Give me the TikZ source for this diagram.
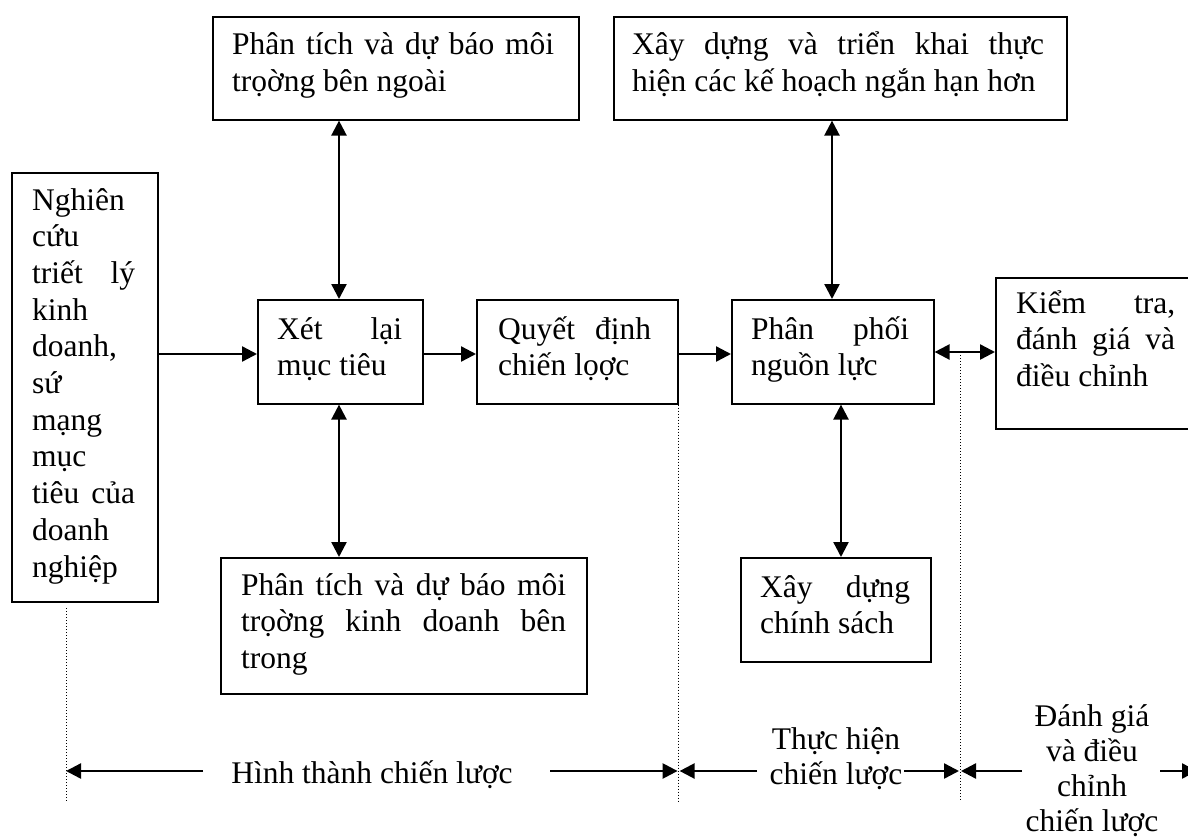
\documentclass[tikz,border=0pt]{standalone}
\usepackage{fontspec}
\setmainfont{Liberation Serif}
\usetikzlibrary{arrows.meta}
\newcommand\jline[2]{\makebox[#1pt][s]{#2}}
\begin{document}
\begin{tikzpicture}[x=1pt,y=-1pt,
  box/.style={draw, line width=1.6pt, anchor=north west, inner sep=0pt},
  txt/.style={anchor=base west, align=left, inner sep=0pt, font=\fontsize{31.5}{36.7}\selectfont},
  lbl/.style={anchor=base, align=center, inner sep=0pt, font=\fontsize{31.5}{35}\selectfont},
  arr/.style={line width=2.4pt, -{Triangle[length=15pt,width=15pt]}},
  darr/.style={line width=2.4pt, {Triangle[length=15pt,width=15pt]}-{Triangle[length=15pt,width=15pt]}},
  dotline/.style={line width=1pt, dash pattern=on 1pt off 2pt}]
\useasboundingbox (0,0) rectangle (1188,837);
% boxes (frames)
\node[box, minimum width=366pt, minimum height=103pt] (A) at (212,16) {};
\node[box, minimum width=453pt, minimum height=103pt] (B) at (613,16) {};
\node[box, minimum width=146pt, minimum height=429pt] (C) at (11,172) {};
\node[box, minimum width=165pt, minimum height=104pt] (D) at (257,299) {};
\node[box, minimum width=201pt, minimum height=104pt] (E) at (476,299) {};
\node[box, minimum width=202pt, minimum height=104pt] (F) at (731,299) {};
\node[box, minimum width=205pt, minimum height=151pt] (G) at (995,277) {};
\node[box, minimum width=366pt, minimum height=136pt] (H) at (220,557) {};
\node[box, minimum width=190pt, minimum height=104pt] (I) at (740,557) {};
% box texts (anchored at the baseline of the last line)
\node[txt] (At) at (232,91.7) {\jline{322}{Phân tích và dự báo môi}\\ trọờng bên ngoài};
\node[txt] (Bt) at (632,91.7) {\jline{412}{Xây dựng và triển khai thực}\\ hiện các kế hoạch ngắn hạn hơn};
\node[txt] (Ct) at (32,577) {Nghiên\\ cứu\\ \jline{103}{triết lý}\\ kinh\\ doanh,\\ sứ\\ mạng\\ mục\\ \jline{103}{tiêu của}\\ doanh\\ nghiệp};
\node[txt] (Dt) at (277,375.7) {\jline{125}{Xét lại}\\ mục tiêu};
\node[txt] (Et) at (498,375.7) {\jline{153}{Quyết định}\\ chiến lọợc};
\node[txt] (Ft) at (751,375.7) {\jline{158}{Phân phối}\\ nguồn lực};
\node[txt] (Gt) at (1016,386.4) {\jline{159}{Kiểm tra,}\\ \jline{159}{đánh giá và}\\ điều chỉnh};
\node[txt] (Ht) at (241,668.4) {\jline{325}{Phân tích và dự báo môi}\\ \jline{325}{trọờng kinh doanh bên}\\ trong};
\node[txt] (It) at (760,633.7) {\jline{150}{Xây dựng}\\ chính sách};
% reference coordinates
\coordinate (xa) at (339,0);
\coordinate (xb) at (832,0);
\coordinate (xi) at (841,0);
\coordinate (yrow) at (0,354);
\coordinate (yfg) at (0,352);
\coordinate (ybot) at (0,801);
\coordinate (yarr) at (0,771);
% connectors
\draw[darr] (A.south -| xa) -- (D.north -| xa);
\draw[darr] (D.south -| xa) -- (H.north -| xa);
\draw[darr] (B.south -| xb) -- (F.north -| xb);
\draw[darr] (F.south -| xi) -- (I.north -| xi);
\draw[arr] (C.east |- yrow) -- (D.west |- yrow);
\draw[arr] (D.east |- yrow) -- (E.west |- yrow);
\draw[arr] (E.east |- yrow) -- (F.west |- yrow);
\draw[darr] (F.east |- yfg) -- (G.west |- yfg);
% dotted phase separators
\coordinate (d1) at (66,608);
\coordinate (d3) at (960,352);
\draw[dotline] (d1) -- (d1 |- ybot);
\draw[dotline] (E.south east) -- (E.south east |- ybot);
\draw[dotline] (d3) -- (d3 |- ybot);
% bottom labels (anchored at the baseline of the last line)
\node[lbl] (L1) at (372,783) {Hình thành chiến lược};
\node[lbl] (L2) at (836,784) {Thực hiện\\ chiến lược};
\node[lbl] (L3) at (1092,831) {Đánh giá\\ và điều\\ chỉnh\\ chiến lược};
% bottom arrows
\coordinate (t1) at (203,771);
\coordinate (t2) at (550,771);
\coordinate (t3) at (757,771);
\coordinate (t4) at (904,771);
\coordinate (t5) at (1022,771);
\coordinate (t6) at (1160,771);
\coordinate (e6) at (1197,771);
\draw[arr] (t1) -- (d1 |- yarr);
\draw[arr] (t2) -- ([xshift=-1pt]E.south east |- yarr);
\draw[arr] (t3) -- ([xshift=1pt]E.south east |- yarr);
\draw[arr] (t4) -- ([xshift=-1pt]d3 |- yarr);
\draw[arr] (t5) -- ([xshift=1pt]d3 |- yarr);
\draw[arr] (t6) -- (e6);
\end{tikzpicture}
\end{document}
